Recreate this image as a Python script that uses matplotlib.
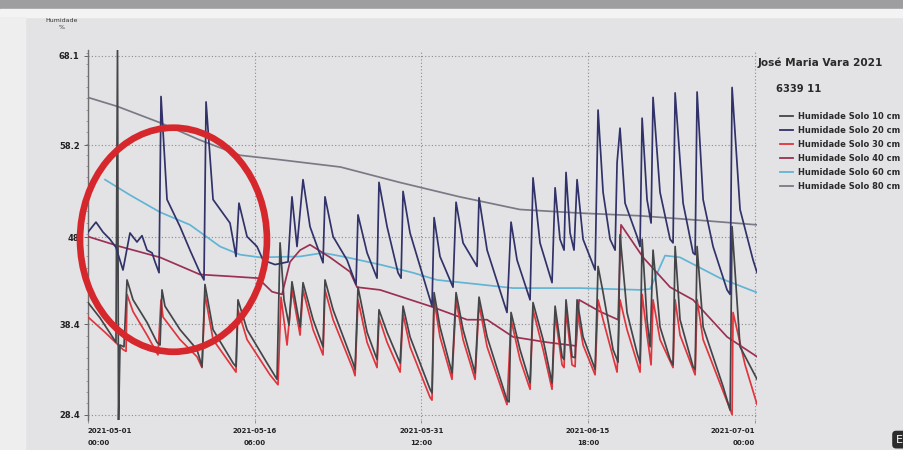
import numpy as np
import pandas as pd
import matplotlib
matplotlib.use("Agg")
import matplotlib.pyplot as plt
import matplotlib.dates as mdates
from matplotlib.patches import Ellipse, Rectangle
from matplotlib.ticker import AutoMinorLocator

# time is given in days since 2021-05-01 00:00, humidity in %
START = pd.Timestamp("2021-05-01 00:00")

days_80 = [0.0, 2.7, 6.6, 10.2, 13.9, 17.6, 23.1, 28.5, 34.0, 39.5, 45.0, 50.5, 56.0, 61.2]
hum_80 = [63.5, 62.5, 60.7, 58.8, 57.1, 56.6, 55.8, 54.1, 52.5, 51.1, 50.7, 50.4, 49.9, 49.4]

days_60 = [1.56, 3.84, 6.59, 9.33, 12.08, 13.90, 15.74, 19.40, 21.50, 23.70, 26.72, 29.73,
           31.93, 35.86, 38.88, 45.01, 50.50, 51.42, 52.79, 54.16, 57.82, 61.21]
hum_60 = [54.4, 52.7, 50.8, 49.4, 47.0, 46.1, 45.8, 45.9, 46.3, 45.8, 45.0, 44.1,
          43.3, 42.8, 42.4, 42.4, 42.2, 42.3, 46.0, 45.8, 43.5, 41.9]

days_40 = [0.0, 2.93, 6.59, 10.25, 12.99, 15.55, 16.83, 17.75, 18.48, 19.40, 20.31, 22.14,
           23.97, 24.61, 26.72, 31.29, 34.68, 36.51, 38.88, 41.99, 44.65, 44.92, 46.84,
           48.49, 48.76, 50.78, 53.25, 55.35, 58.46, 61.21]
hum_40 = [48.1, 47.0, 45.8, 43.9, 43.7, 43.5, 42.0, 41.7, 45.3, 46.6, 47.2, 45.8,
          44.2, 42.5, 42.2, 40.4, 38.9, 38.9, 37.0, 36.4, 36.0, 41.1, 39.8,
          38.9, 49.4, 45.8, 42.5, 41.1, 37.0, 34.8]

days_20 = [0.00, 0.73, 1.37, 2.01, 2.56, 3.20, 3.84, 4.48, 4.94, 5.40, 5.86, 6.13, 6.50,
           6.68, 7.23, 8.42, 9.33, 10.25, 10.61, 10.80, 11.44, 12.99, 13.54, 13.81, 14.55,
           15.46, 16.01, 17.11, 18.30, 18.66, 19.12, 19.67, 20.31, 21.50, 21.68, 22.42,
           23.70, 24.52, 24.70, 25.53, 26.44, 26.62, 27.36, 28.36, 28.64, 28.82, 29.46,
           31.02, 31.47, 31.66, 32.20, 33.39, 33.67, 34.31, 35.59, 35.77, 36.51, 38.33,
           38.70, 39.25, 40.44, 40.71, 41.35, 42.45, 42.73, 43.18, 43.55, 43.73, 44.10,
           44.46, 44.74, 45.29, 46.39, 46.66, 47.12, 47.76, 48.22, 48.40, 48.67, 49.13,
           50.23, 50.50, 50.69, 51.14, 51.51, 51.69, 52.33, 53.25, 53.52, 53.71, 54.44,
           55.35, 55.54, 55.72, 56.27, 57.18, 58.46, 58.74, 58.92, 59.65, 60.84, 61.21]
hum_20 = [48.6, 49.7, 48.6, 47.8, 46.9, 44.4, 48.5, 47.5, 48.2, 46.6, 46.3, 45.3, 44.1,
          63.6, 52.2, 49.2, 46.6, 44.1, 43.3, 63.0, 52.2, 49.6, 45.9, 51.8, 48.1,
          47.0, 45.5, 45.0, 45.3, 52.5, 47.0, 54.4, 49.2, 45.2, 52.5, 48.1,
          45.5, 42.8, 50.5, 46.3, 43.5, 54.1, 49.2, 44.1, 43.5, 53.1, 48.5,
          42.2, 40.4, 50.2, 45.9, 42.5, 51.9, 47.4, 44.8, 52.4, 46.6, 39.7,
          49.7, 45.5, 41.1, 54.6, 47.4, 43.0, 53.5, 47.8, 46.6, 55.2, 48.5,
          46.6, 54.4, 47.8, 44.4, 62.1, 53.0, 47.8, 46.6, 56.3, 60.1, 51.8,
          48.1, 47.0, 61.2, 52.2, 49.6, 63.5, 53.0, 47.8, 47.4, 64.0, 51.8,
          46.3, 46.1, 64.1, 52.2, 47.0, 42.2, 41.7, 64.6, 51.1, 45.5, 44.1]

days_10 = [0.00, 1.10, 2.56, 2.70, 2.79, 2.93, 3.29, 3.57, 4.12, 5.40, 6.31, 6.59, 6.77,
           7.04, 8.42, 9.97, 10.43, 10.70, 11.44, 13.27, 13.54, 13.72, 14.55, 16.38,
           17.29, 17.57, 17.93, 18.39, 18.66, 19.40, 19.67, 20.59, 21.50, 21.68, 22.42,
           24.25, 24.43, 24.70, 25.53, 26.44, 26.62, 27.36, 28.55, 28.82, 29.46, 31.29,
           31.47, 31.66, 32.20, 33.30, 33.67, 34.31, 35.41, 35.77, 36.51, 38.33, 38.52,
           38.70, 39.52, 40.44, 40.71, 41.63, 42.45, 42.73, 43.37, 43.55, 43.73, 44.28,
           44.56, 44.74, 45.29, 46.39, 46.66, 47.12, 48.03, 48.49, 48.67, 49.31, 50.23,
           50.50, 50.69, 51.14, 51.42, 51.69, 52.33, 53.25, 53.52, 53.71, 54.16, 55.35,
           55.54, 55.72, 56.27, 58.10, 58.74, 58.92, 59.65, 61.21]
hum_10 = [40.8, 39.1, 36.4, 69.3, 27.4, 36.1, 35.9, 43.3, 41.1, 38.6, 36.4, 36.1, 42.2,
          40.4, 37.8, 35.6, 33.7, 42.8, 37.8, 34.1, 33.7, 41.1, 37.8, 34.1,
          32.3, 47.4, 41.1, 38.3, 43.1, 38.1, 43.0, 38.9, 35.9, 43.3, 40.0,
          34.1, 33.4, 42.5, 37.5, 34.5, 40.0, 37.5, 34.1, 40.4, 37.0, 31.2,
          30.8, 41.9, 38.1, 33.0, 41.9, 37.8, 33.0, 41.4, 37.0, 30.0, 29.8,
          39.7, 35.6, 31.9, 40.8, 36.7, 31.9, 40.4, 34.8, 34.5, 41.1, 34.8,
          34.7, 41.1, 37.0, 33.4, 44.8, 41.9, 35.6, 34.2, 48.3, 39.7, 35.2,
          34.1, 47.8, 38.9, 35.9, 46.6, 38.1, 34.5, 33.9, 47.0, 38.9, 33.7,
          33.4, 47.0, 38.1, 31.5, 28.9, 49.2, 35.9, 32.3]

days_30 = [0.00, 1.56, 3.20, 3.48, 3.57, 4.12, 5.40, 6.40, 6.68, 6.86, 8.42, 9.97, 10.43,
           10.70, 11.44, 13.54, 13.72, 14.55, 16.65, 17.38, 17.66, 18.21, 18.66, 19.40,
           19.67, 20.59, 21.50, 21.68, 22.42, 24.25, 24.43, 24.70, 25.53, 26.44, 26.62,
           27.36, 28.55, 28.82, 29.46, 31.29, 31.47, 31.66, 32.20, 33.30, 33.67, 34.31,
           35.41, 35.77, 36.51, 38.33, 38.70, 39.52, 40.44, 40.71, 41.63, 42.45, 42.73,
           43.37, 43.55, 43.73, 44.28, 44.56, 44.74, 45.29, 46.39, 46.66, 47.12, 48.40,
           48.67, 49.31, 50.50, 50.69, 51.14, 51.51, 51.69, 52.33, 53.52, 53.71, 54.16,
           55.54, 55.72, 56.27, 58.92, 59.01, 60.11, 61.21]
hum_30 = [39.2, 37.5, 35.6, 35.4, 41.7, 39.8, 37.2, 35.0, 41.1, 39.2, 36.7, 34.8, 33.6,
          41.7, 36.7, 33.1, 40.0, 36.7, 32.8, 31.7, 41.4, 36.1, 42.2, 37.2,
          42.2, 37.8, 35.0, 42.2, 38.9, 33.4, 32.7, 41.1, 36.4, 33.6, 39.1,
          36.4, 33.1, 39.5, 35.9, 30.3, 30.0, 41.1, 37.0, 32.3, 41.1, 36.7,
          32.3, 40.6, 35.9, 29.5, 38.9, 34.5, 31.2, 40.0, 35.6, 31.2, 39.5,
          33.9, 33.6, 40.0, 33.9, 33.7, 40.0, 36.1, 32.8, 41.1, 38.9, 33.1,
          41.1, 37.8, 33.1, 41.7, 37.2, 33.9, 41.1, 36.7, 33.6, 41.1, 37.2,
          32.8, 41.1, 36.7, 28.4, 39.7, 33.9, 29.5]

series_names = ["Humidade Solo 10 cm", "Humidade Solo 20 cm", "Humidade Solo 30 cm",
                "Humidade Solo 40 cm", "Humidade Solo 60 cm", "Humidade Solo 80 cm"]
series_colors = ["#434548", "#313269", "#e0353d", "#9c3052", "#62b4d4", "#7a7a86"]

y_ticks = [28.4, 38.4, 48, 58.2, 68.1]
x_tick_labels = ["2021-05-01\n00:00", "2021-05-16\n06:00", "2021-05-31\n12:00",
                 "2021-06-15\n18:00", "2021-07-01\n00:00"]
x_tick_days = [0, 15.25, 30.5, 45.75, 61]


def to_time(days):
    return START + pd.to_timedelta(np.asarray(days), unit="D")


fig = plt.figure(figsize=(9.04, 4.5), dpi=100, facecolor="#e3e3e5")
fig.patches.append(Rectangle((0, 1 - 9 / 450), 1, 9 / 450, transform=fig.transFigure,
                             color="#9e9ea0", zorder=0))
fig.patches.append(Rectangle((0, 1 - 17 / 450), 1, 8 / 450, transform=fig.transFigure,
                             color="#f3f3f3", zorder=0))
fig.patches.append(Rectangle((0, 0), 25 / 904, 1 - 17 / 450, transform=fig.transFigure,
                             color="#eeeeef", zorder=0))

ax = fig.add_axes([88 / 904, 30 / 450, 669 / 904, 370 / 450])
ax.set_facecolor("none")

lw = 1.25
ax.plot(to_time(days_80), hum_80, color=series_colors[5], lw=lw, zorder=2)
ax.plot(to_time(days_60), hum_60, color=series_colors[4], lw=lw, zorder=2)
ax.plot(to_time(days_40), hum_40, color=series_colors[3], lw=lw, zorder=3)
ax.plot(to_time(days_30), hum_30, color=series_colors[2], lw=lw, zorder=4)
ax.plot(to_time(days_10), hum_10, color=series_colors[0], lw=lw, zorder=5)
ax.plot(to_time(days_20), hum_20, color=series_colors[1], lw=lw, zorder=6)

ax.set_ylim(27.8, 68.75)
ax.set_xlim(to_time([0])[0], to_time([61.2])[0])

ax.set_yticks(y_ticks)
ax.set_yticklabels([str(v) for v in y_ticks], fontsize=6, fontweight="bold", color="#222222")
ax.yaxis.set_minor_locator(AutoMinorLocator(8))
ax.tick_params(axis="y", which="major", length=3, width=0.7, color="#666666", pad=3)
ax.tick_params(axis="y", which="minor", length=1.5, width=0.5, color="#888888")

ax.set_xticks(to_time(x_tick_days))
ax.set_xticklabels(x_tick_labels, fontsize=5, fontweight="bold", color="#222222", linespacing=2.1)
ax.tick_params(axis="x", length=2, width=0.6, color="#888888", pad=4)
xl = ax.get_xticklabels()
xl[0].set_ha("left")
xl[-1].set_ha("right")

ax.grid(True, which="major", linestyle=(0, (1, 2)), color="#8c8c8c", lw=0.8)
for side in ["top", "right", "bottom"]:
    ax.spines[side].set_visible(False)
ax.spines["left"].set_color("#6f6f6f")
ax.spines["left"].set_linewidth(1.0)

fig.text(62 / 904, 1 - 24 / 450, "Humidade\n%", fontsize=4.5, ha="center", va="center",
         color="#333333", linespacing=1.3)

# red circle marking the first days
cx = mdates.date2num(to_time([7.82])[0])
ax.add_patch(Ellipse((cx, 47.75), 17.1, 24.8, fill=False, ec="#d6272d", lw=4.8,
                     clip_on=False, zorder=10))

# legend block
fig.text(758 / 904, 1 - 63 / 450, "José Maria Vara 2021", fontsize=7.6, fontweight="bold",
         color="#2a2a2a", va="center")
fig.text(776 / 904, 1 - 89 / 450, "6339 11", fontsize=7.2, fontweight="bold",
         color="#2a2a2a", va="center")
handles = [plt.Line2D([], [], color=c, lw=1.3) for c in series_colors]
fig.legend(handles, series_names, loc="upper left", bbox_to_anchor=(777 / 904, 1 - 109 / 450),
           frameon=False, prop={"size": 6, "weight": "bold"}, handlelength=1.5,
           handletextpad=0.6, labelspacing=0.6, borderaxespad=0, labelcolor="#2a2a2a")

fig.text(0.999, 0.012, "E", fontsize=8, color="white", ha="right", va="bottom",
         bbox=dict(boxstyle="round,pad=0.35", fc="#2c2c2c", ec="none"))

fig.savefig("out.png", dpi=100, facecolor=fig.get_facecolor())
